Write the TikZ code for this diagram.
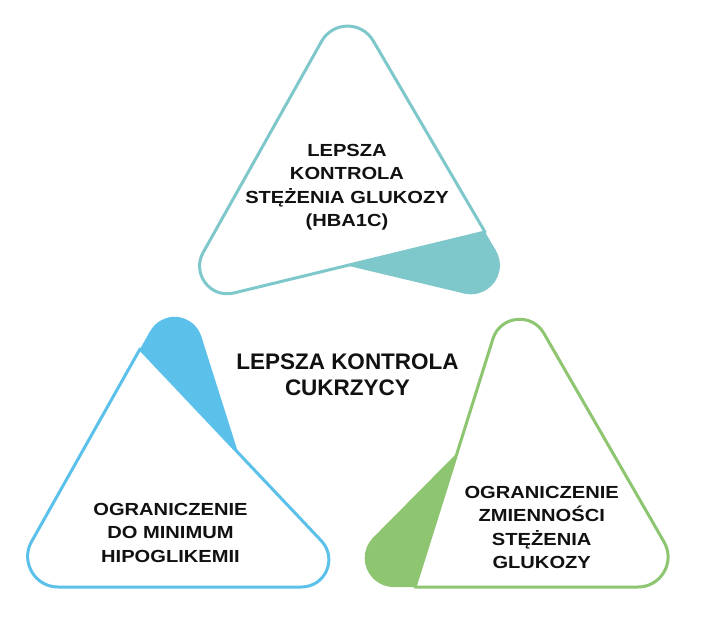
\documentclass[tikz,border=0pt]{standalone}
\usepackage{fontspec}
\setmainfont{Liberation Sans}
\newfontfamily\trifont{Liberation Sans}[FakeStretch=1.15]
\usetikzlibrary{calc}
\definecolor{cTeal}{HTML}{7EC8CB}
\definecolor{cBlue}{HTML}{5CC1EA}
\definecolor{cGreen}{HTML}{8DC571}
\definecolor{cText}{HTML}{111111}
\begin{document}
\begin{tikzpicture}[x=1pt,y=-1pt,
  tri/.style={line width=3pt, line join=round},
  trilabel/.style={font=\trifont\bfseries\fontsize{17.5}{23.5}\selectfont, align=center, text=cText, inner sep=0pt},
  title/.style={font=\bfseries\fontsize{22.5}{26}\selectfont, align=center, text=cText, inner sep=0pt}]
\useasboundingbox[fill=white] (0,0) rectangle (701,635);

% ---------- top (teal) ----------
\coordinate (tV) at (485,232);
\coordinate (tBL) at (172,308);
\coordinate (tA) at (347,-4);
\coordinate (tP) at (347,265.5);
\coordinate (tC) at (470.9,265.3);
\coordinate (tT1) at (464.3,293.5);
\coordinate (tT2) at (495.9,250.6);
\draw[tri, cTeal] (tV)
  -- ($(tBL)!63.8pt!(tV)$) .. controls ($(tBL)!39.4pt!(tV)$) and ($(tBL)!39.4pt!(tA)$) .. ($(tBL)!63.8pt!(tA)$)
  -- ($(tA)!52pt!(tBL)$) .. controls ($(tA)!28.9pt!(tBL)$) and ($(tA)!28.9pt!(tV)$) .. ($(tA)!52pt!(tV)$)
  -- cycle;
\fill[cTeal] (tP) -- (tV) -- (tT2) -- (tT1) -- cycle;
\fill[cTeal] (tC) circle (29pt);

% ---------- left (blue) ----------
\coordinate (bA) at (140,349);
\coordinate (bBR) at (365,587);
\coordinate (bBL) at (6,587);
\coordinate (bP) at (238.2,452.9);
\coordinate (bC) at (174.6,344.8);
\coordinate (bT1) at (201.3,336.4);
\coordinate (bT2) at (150.2,331);
\draw[tri, cBlue] (bA)
  -- ($(bBR)!63.8pt!(bA)$) .. controls ($(bBR)!39.4pt!(bA)$) and ($(bBR)!39.4pt!(bBL)$) .. ($(bBR)!63.8pt!(bBL)$)
  -- ($(bBL)!52pt!(bBR)$) .. controls ($(bBL)!28.9pt!(bBR)$) and ($(bBL)!28.9pt!(bA)$) .. ($(bBL)!52pt!(bA)$)
  -- cycle;
\fill[cBlue] (bP) -- (bA) -- (bT2) -- (bT1) -- cycle;
\fill[cBlue] (bC) circle (28pt);

% ---------- right (green) ----------
\coordinate (gV) at (415,587);
\coordinate (gA) at (512,278);
\coordinate (gBR) at (690,587);
\coordinate (gP) at (457,453);
\coordinate (gC) at (393.7,558);
\coordinate (gT1) at (373.2,537.6);
\coordinate (gT2) at (393.7,587);
\draw[tri, cGreen] (gV)
  -- ($(gA)!63.8pt!(gV)$) .. controls ($(gA)!39.4pt!(gV)$) and ($(gA)!39.4pt!(gBR)$) .. ($(gA)!63.8pt!(gBR)$)
  -- ($(gBR)!52pt!(gA)$) .. controls ($(gBR)!28.9pt!(gA)$) and ($(gBR)!28.9pt!(gV)$) .. ($(gBR)!52pt!(gV)$)
  -- cycle;
\fill[cGreen] (gP) -- (gV) -- (gT2) -- (gT1) -- cycle;
\fill[cGreen] (gC) circle (29pt);

% ---------- texts ----------
\node[trilabel] (ttop) at (347,187.4) {LEPSZA\\KONTROLA\\STĘŻENIA GLUKOZY\\(HBA1C)};
\node[trilabel] (tleft) at (170.5,532.7) {OGRANICZENIE\\DO MINIMUM\\HIPOGLIKEMII};
\node[trilabel] (tright) at (541.7,527.5) {OGRANICZENIE\\ZMIENNOŚCI\\STĘŻENIA\\GLUKOZY};
\node[title] (tmid) at (347.5,375) {LEPSZA KONTROLA\\CUKRZYCY};
\end{tikzpicture}
\end{document}
